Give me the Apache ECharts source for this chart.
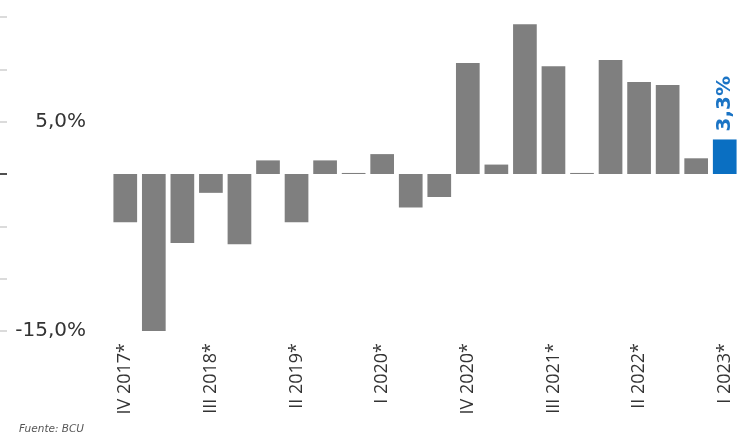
<!DOCTYPE html>
<html>
<head>
<meta charset="utf-8">
<script src="https://cdn.jsdelivr.net/npm/echarts@6/dist/echarts.min.js"></script>
<style>
  html, body { margin: 0; padding: 0; background: #fff; }
  #chart { width: 740px; height: 441px; }
</style>
</head>
<body>
<div id="chart"></div>
<script>
  // trimestres
  var quarters = [
    'IV 2017*', 'I 2018*', 'II 2018*', 'III 2018*', 'IV 2018*',
    'I 2019*', 'II 2019*', 'III 2019*', 'IV 2019*',
    'I 2020*', 'II 2020*', 'III 2020*', 'IV 2020*',
    'I 2021*', 'II 2021*', 'III 2021*', 'IV 2021*',
    'I 2022*', 'II 2022*', 'III 2022*', 'IV 2022*',
    'I 2023*'
  ];
  // variacion interanual (%)
  var growth = [
    -4.6, -15.3, -6.6, -1.8, -6.7,
    1.3, -4.6, 1.3, 0.1,
    1.9, -3.2, -2.2, 10.6,
    0.9, 14.3, 10.3, 0.1,
    10.9, 8.8, 8.5, 1.5,
    3.3
  ];
  var yLabelValues = [5, -15];
  var yMin = -15, yMax = 15, yStep = 5;

  var fmt = function (v) { return v.toFixed(1).replace('.', ',') + '%'; };

  var barData = growth.map(function (v, i) {
    if (i === growth.length - 1) {
      return {
        value: v,
        itemStyle: { color: '#0a6fc2' },
        label: {
          show: true, position: 'top', rotate: 90, align: 'left', verticalAlign: 'middle',
          distance: 8, color: '#1b74c5', fontSize: 20, fontWeight: 'bold',
          fontFamily: 'DejaVu Sans', formatter: function (p) { return fmt(p.value); }
        }
      };
    }
    return v;
  });

  var myChart = echarts.init(document.getElementById('chart'));
  var option = {
    animation: false,
    title: {
      text: 'Fuente: BCU', left: 14, bottom: 1,
      textStyle: { fontSize: 10.5, fontStyle: 'italic', fontWeight: 'normal', color: '#555', fontFamily: 'DejaVu Sans' }
    },
    grid: { left: 111, right: 1, top: 17, bottom: 110, containLabel: false },
    xAxis: {
      type: 'category',
      data: quarters,
      position: 'bottom',
      axisLine: { show: false },
      axisTick: { show: false },
      axisLabel: {
        interval: 2, rotate: 90, margin: 12,
        fontSize: 18, color: '#333', fontFamily: 'Open Sans'
      }
    },
    yAxis: [
      {
        type: 'value', position: 'left', min: yMin, max: yMax, interval: yStep,
        axisLine: { show: false }, axisTick: { show: false }, splitLine: { show: false },
        axisLabel: {
          margin: 25, fontSize: 20, color: '#333', fontFamily: 'DejaVu Sans',
          formatter: function (v) { return yLabelValues.indexOf(v) >= 0 ? fmt(v) : ''; }
        }
      },
      {
        type: 'value', position: 'left', min: yMin, max: yMax, interval: yStep, offset: 104,
        axisLine: { show: false }, splitLine: { show: false }, axisLabel: { show: false },
        axisTick: { show: true, length: 7, lineStyle: { color: '#cfcfcf', width: 1.5 } }
      },
      {
        type: 'value', position: 'left', min: yMin, max: yMax, interval: yStep, offset: 104,
        axisLine: { show: false }, splitLine: { show: false }, axisLabel: { show: false },
        axisTick: { show: true, length: 8, customValues: [0], lineStyle: { color: '#222', width: 1.5 } }
      }
    ],
    series: [
      {
        name: 'Variacion',
        type: 'bar',
        yAxisIndex: 0,
        barCategoryGap: '17%',
        itemStyle: { color: '#7f7f7f' },
        data: barData
      }
    ]
  };
  myChart.setOption(option);
</script>
</body>
</html>
